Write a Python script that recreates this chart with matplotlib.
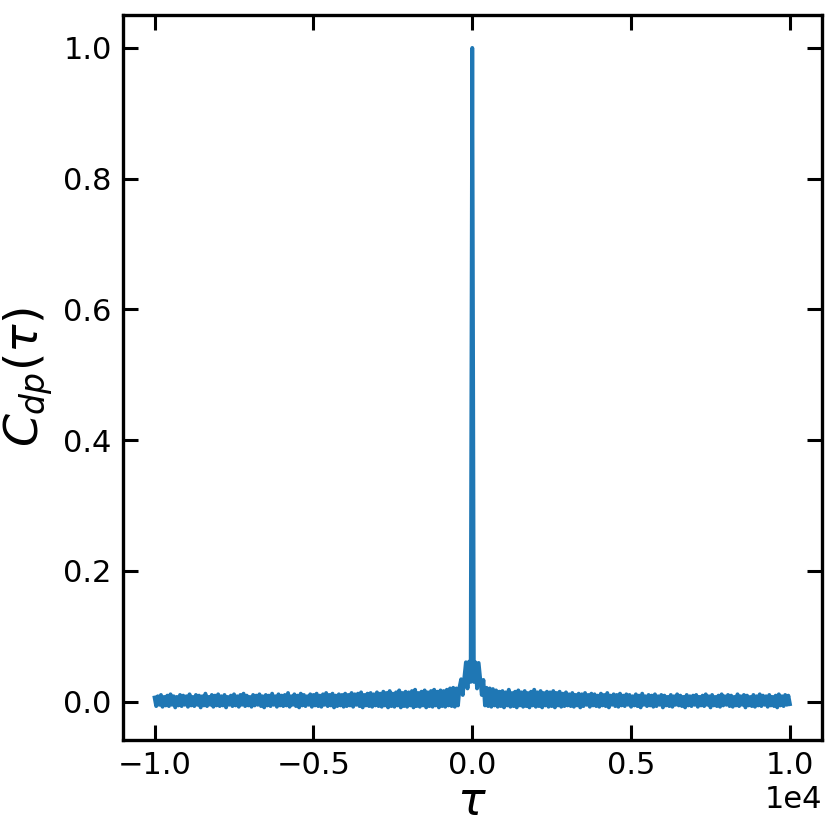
import numpy as np
import matplotlib
matplotlib.use("Agg")
import matplotlib.pyplot as plt

# correlation values, lag step 50
c_left = [
    0.006, -0.007, 0.008, -0.005, 0.010, -0.008, 0.007, -0.006, 0.009, -0.007, 0.011, -0.005, 0.008, -0.009, 0.007, -0.006, 0.010, -0.007, 0.009, -0.005,
    0.008, -0.008, 0.011, -0.006, 0.007, -0.007, 0.010, -0.005, 0.009, -0.009, 0.008, -0.006, 0.012, -0.007, 0.007, -0.005, 0.010, -0.008, 0.009, -0.006,
    0.011, -0.007, 0.008, -0.006, 0.010, -0.009, 0.007, -0.005, 0.009, -0.007, 0.011, -0.006, 0.008, -0.008, 0.010, -0.005, 0.012, -0.007, 0.009, -0.006,
    0.007, -0.008, 0.010, -0.006, 0.009, -0.005, 0.011, -0.007, 0.008, -0.009, 0.010, -0.006, 0.009, -0.007, 0.012, -0.005, 0.008, -0.008, 0.011, -0.006,
    0.009, -0.007, 0.010, -0.006, 0.013, -0.008, 0.008, -0.005, 0.011, -0.007, 0.009, -0.009, 0.012, -0.006, 0.010, -0.007, 0.008, -0.005, 0.011, -0.008,
    0.010, -0.006, 0.012, -0.007, 0.009, -0.008, 0.011, -0.005, 0.013, -0.007, 0.010, -0.006, 0.012, -0.009, 0.009, -0.007, 0.011, -0.006, 0.010, -0.008,
    0.012, -0.007, 0.010, -0.006, 0.013, -0.008, 0.011, -0.005, 0.012, -0.007, 0.014, -0.009, 0.010, -0.006, 0.012, -0.007, 0.013, -0.008, 0.011, -0.006,
    0.014, -0.007, 0.012, -0.008, 0.015, -0.006, 0.013, -0.009, 0.016, -0.007, 0.012, -0.008, 0.014, -0.006, 0.017, -0.009, 0.013, -0.007, 0.015, -0.008,
    0.014, -0.006, 0.016, -0.009, 0.018, -0.007, 0.013, -0.008, 0.015, -0.006, 0.017, -0.009, 0.014, -0.007, 0.016, -0.008, 0.018, -0.006, 0.015, -0.009,
    0.017, -0.007, 0.016, -0.008, 0.018, -0.006,
    0.020, -0.007, 0.021, -0.008, 0.020, -0.006, 0.022,
    0.034, 0.010, 0.036,
    0.060, 0.020, 0.061, 0.030,
]
c_peak = [1.0]
c_right = [
    0.030, 0.060, 0.020, 0.059,
    0.035, 0.010, 0.033,
    -0.006, 0.021, -0.007, 0.020, -0.008, 0.019, -0.006,
    0.017, -0.008, 0.015, -0.007, 0.016, -0.009, 0.014, -0.006, 0.018, -0.008,
    0.013, -0.007, 0.015, -0.009, 0.017, -0.006, 0.014, -0.008, 0.016, -0.007,
    0.013, -0.009, 0.015, -0.006, 0.018, -0.008, 0.014, -0.007, 0.016, -0.009,
    0.013, -0.006, 0.015, -0.008, 0.014, -0.007, 0.016, -0.009, 0.013, -0.006,
    0.015, -0.008, 0.012, -0.007, 0.014, -0.006,
    0.011, -0.007, 0.013, -0.008, 0.010, -0.006, 0.012, -0.009, 0.011, -0.007, 0.013, -0.005, 0.010, -0.008, 0.012, -0.006, 0.011, -0.007, 0.009, -0.008,
    0.012, -0.006, 0.010, -0.007, 0.013, -0.009, 0.009, -0.005, 0.011, -0.007, 0.010, -0.008, 0.012, -0.006, 0.009, -0.007, 0.011, -0.005, 0.010, -0.008,
    0.008, -0.006, 0.011, -0.007, 0.009, -0.009, 0.012, -0.005, 0.008, -0.007, 0.010, -0.006, 0.009, -0.008, 0.011, -0.007, 0.008, -0.005, 0.010, -0.009,
    0.009, -0.006, 0.007, -0.007, 0.010, -0.008, 0.008, -0.005, 0.011, -0.006, 0.009, -0.007, 0.007, -0.009, 0.010, -0.006, 0.008, -0.007, 0.009, -0.005,
    0.010, -0.008, 0.007, -0.006, 0.009, -0.007, 0.011, -0.005, 0.008, -0.009, 0.010, -0.006, 0.007, -0.007, 0.009, -0.008, 0.011, -0.006, 0.008, -0.005,
    0.010, -0.007, 0.009, -0.008, 0.007, -0.006, 0.011, -0.007, 0.008, -0.005, 0.010, -0.009, 0.009, -0.006, 0.007, -0.007, 0.010, -0.008, 0.008, -0.006,
    0.011, -0.007, 0.009, -0.005, 0.008, -0.008, 0.010, -0.006, 0.007, -0.007, 0.009, -0.009, 0.011, -0.006, 0.008, -0.007, 0.010, -0.005, 0.009, -0.004,
]
assert len(c_left) == 200 and len(c_right) == 200

c_dp = np.array(c_left + c_peak + c_right)
tau = np.arange(-10000, 10001, 50)

fig = plt.figure(figsize=(8.3, 8.3), dpi=100)
ax = fig.add_subplot(111)
fig.subplots_adjust(left=0.148, right=0.990, top=0.982, bottom=0.108)

ax.plot(tau, c_dp, color='#1f77b4', lw=2.8)

ax.set_xlabel(r'$\tau$', fontsize=33, labelpad=0)
ax.set_ylabel(r'$C_{dp}(\tau)$', fontsize=34, labelpad=6)
ax.ticklabel_format(style='sci', axis='x', scilimits=(0, 0))
ax.xaxis.get_offset_text().set_fontsize(22)
ax.tick_params(direction='in', top=True, right=True, length=11, width=2.2, labelsize=22, pad=8)
for s in ax.spines.values():
    s.set_linewidth(2.4)

fig.savefig('out.png', dpi=100)
